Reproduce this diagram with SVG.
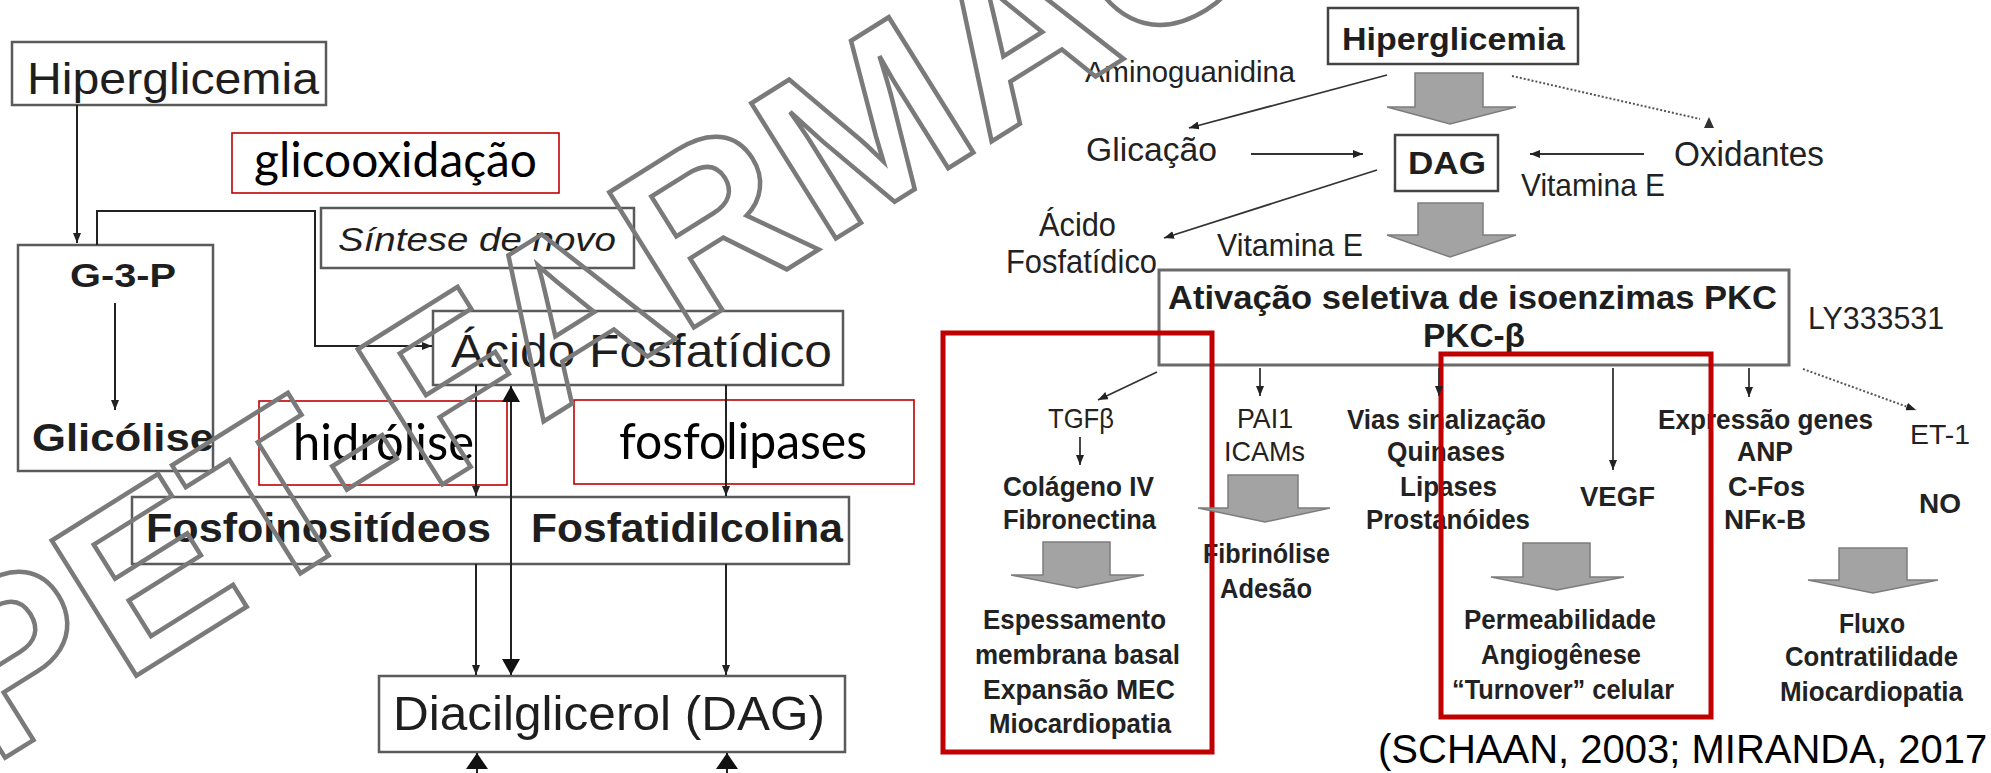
<svg xmlns="http://www.w3.org/2000/svg" width="1991" height="773" viewBox="0 0 1991 773">
<defs>
<style>
.bx{fill:none;stroke:#5a5a5a;stroke-width:2.5}
.bk{fill:none;stroke:#444;stroke-width:2.5}
.rb{fill:none;stroke:#c00000;stroke-width:1.6}
.rB{fill:none;stroke:#c00000;stroke-width:5}
.t{font-family:"Liberation Sans",Arial,sans-serif;fill:#1e1e1e}
.r{font-family:"Liberation Sans",Arial,sans-serif;fill:#222}
.b{font-weight:bold}
.i{font-style:italic}
.c{font-family:Lato,"Open Sans",sans-serif;fill:#000}
.ln{fill:none;stroke:#222;stroke-width:2}
.lr{fill:none;stroke:#333;stroke-width:1.8}
.dt{fill:none;stroke:#555;stroke-width:2;stroke-dasharray:2 2}
.blk{fill:#a3a3a3;stroke:#7d7d7d;stroke-width:1.5}
.wm{font-family:"Liberation Sans",Arial,sans-serif;font-weight:bold;font-size:232px;fill:none;stroke:#7a7a7a;stroke-width:4.5}
</style>
<marker id="a" viewBox="0 0 10 8" refX="10" refY="4" markerWidth="10" markerHeight="8" markerUnits="userSpaceOnUse" orient="auto"><path d="M0,0L10,4L0,8z" fill="#222"/></marker>
<marker id="A" viewBox="0 0 16 18" refX="16" refY="9" markerWidth="16" markerHeight="18" markerUnits="userSpaceOnUse" orient="auto-start-reverse"><path d="M0,0L16,9L0,18z" fill="#111"/></marker>
<marker id="U" viewBox="0 0 16 22" refX="16" refY="11" markerWidth="16" markerHeight="22" markerUnits="userSpaceOnUse" orient="auto"><path d="M0,0L16,11L0,22z" fill="#111"/></marker>
</defs>
<rect x="0" y="0" width="1991" height="773" fill="#fff"/>

<!-- LEFT DIAGRAM NODES -->
<g id="hiperglicemia-l">
<rect class="bx" x="12" y="42" width="314" height="63"/>
<text class="t" x="27" y="94" font-size="44" textLength="292" lengthAdjust="spacingAndGlyphs">Hiperglicemia</text>
</g>
<g id="glicooxidacao">
<rect class="rb" x="232" y="133" width="327" height="60"/>
<text class="c" x="254" y="177" font-size="48" textLength="283" lengthAdjust="spacingAndGlyphs">glicooxidação</text>
</g>
<g id="g3p">
<rect class="bx" x="18" y="245" width="195" height="226"/>
<text class="t b" x="123" y="287" font-size="33" text-anchor="middle" textLength="106" lengthAdjust="spacingAndGlyphs">G-3-P</text>
<text class="t b" x="32" y="451" font-size="38" textLength="182" lengthAdjust="spacingAndGlyphs">Glicólise</text>
</g>
<g id="sintese">
<rect class="bx" x="321" y="208" width="313" height="60"/>
<text class="t i" x="338" y="251" font-size="33" textLength="278" lengthAdjust="spacingAndGlyphs">Síntese de novo</text>
</g>
<g id="acido-l">
<rect class="bx" x="433" y="311" width="410" height="74"/>
<text class="t" x="451" y="367" font-size="46" textLength="381" lengthAdjust="spacingAndGlyphs">Ácido Fosfatídico</text>
</g>
<g id="hidrolise">
<rect class="rb" x="259" y="401" width="248" height="84"/>
<text class="c" x="293" y="460" font-size="50" textLength="181" lengthAdjust="spacingAndGlyphs">hidrólise</text>
</g>
<g id="fosfolipases">
<rect class="rb" x="574" y="400" width="340" height="84"/>
<text class="c" x="619" y="459" font-size="50" textLength="248" lengthAdjust="spacingAndGlyphs">fosfolipases</text>
</g>
<g id="fosfolipidios">
<rect class="bx" x="132" y="497" width="717" height="67"/>
<text class="t b" x="146" y="542" font-size="40" textLength="345" lengthAdjust="spacingAndGlyphs">Fosfoinositídeos</text>
<text class="t b" x="531" y="542" font-size="40" textLength="312" lengthAdjust="spacingAndGlyphs">Fosfatidilcolina</text>
</g>
<g id="diacilglicerol">
<rect class="bx" x="379" y="676" width="466" height="76"/>
<text class="t" x="393" y="730" font-size="48" textLength="432" lengthAdjust="spacingAndGlyphs">Diacilglicerol (DAG)</text>
</g>

<!-- RIGHT DIAGRAM NODES -->
<g id="hiperglicemia-r">
<rect class="bk" x="1328" y="8" width="250" height="56"/>
<text class="t b" x="1342" y="50" font-size="31" textLength="223" lengthAdjust="spacingAndGlyphs">Hiperglicemia</text>
</g>
<g id="aminoguanidina"><text class="r" x="1085" y="82" font-size="30" textLength="210" lengthAdjust="spacingAndGlyphs">Aminoguanidina</text></g>
<g id="glicacao"><text class="r" x="1086" y="161" font-size="34" textLength="131" lengthAdjust="spacingAndGlyphs">Glicação</text></g>
<g id="dag-r">
<rect class="bk" x="1395" y="135" width="103" height="56"/>
<text class="t b" x="1408" y="174" font-size="32" textLength="78" lengthAdjust="spacingAndGlyphs">DAG</text>
</g>
<g id="oxidantes"><text class="r" x="1674" y="166" font-size="35" textLength="150" lengthAdjust="spacingAndGlyphs">Oxidantes</text></g>
<g id="vitamina-e-1"><text class="r" x="1521" y="196" font-size="32" textLength="144" lengthAdjust="spacingAndGlyphs">Vitamina E</text></g>
<g id="acido-r">
<text class="r" x="1039" y="236" font-size="33" textLength="77" lengthAdjust="spacingAndGlyphs">Ácido</text>
<text class="r" x="1006" y="273" font-size="33" textLength="151" lengthAdjust="spacingAndGlyphs">Fosfatídico</text>
</g>
<g id="vitamina-e-2"><text class="r" x="1217" y="256" font-size="32" textLength="146" lengthAdjust="spacingAndGlyphs">Vitamina E</text></g>
<g id="ativacao">
<rect fill="none" stroke="#6a6a6a" stroke-width="3" x="1159" y="270" width="630" height="95"/>
<text class="t b" x="1168" y="309" font-size="34" textLength="609" lengthAdjust="spacingAndGlyphs">Ativação seletiva de  isoenzimas PKC</text>
<text class="t b" x="1474" y="347" font-size="34" text-anchor="middle" textLength="102" lengthAdjust="spacingAndGlyphs">PKC-β</text>
</g>
<g id="ly333531"><text class="r" x="1808" y="329" font-size="32" textLength="136" lengthAdjust="spacingAndGlyphs">LY333531</text></g>

<g id="tgfb">
<text class="r" x="1048" y="428" font-size="28" textLength="66" lengthAdjust="spacingAndGlyphs">TGFβ</text>
<text class="r b" x="1003" y="496" font-size="28" textLength="151" lengthAdjust="spacingAndGlyphs">Colágeno IV</text>
<text class="r b" x="1003" y="529" font-size="28" textLength="153" lengthAdjust="spacingAndGlyphs">Fibronectina</text>
</g>
<g id="espessamento">
<text class="r b" x="983" y="629" font-size="27" textLength="183" lengthAdjust="spacingAndGlyphs">Espessamento</text>
<text class="r b" x="975" y="664" font-size="27" textLength="205" lengthAdjust="spacingAndGlyphs">membrana basal</text>
<text class="r b" x="983" y="699" font-size="27" textLength="192" lengthAdjust="spacingAndGlyphs">Expansão MEC</text>
<text class="r b" x="989" y="733" font-size="27" textLength="182" lengthAdjust="spacingAndGlyphs">Miocardiopatia</text>
</g>
<g id="pai1">
<text class="r" x="1237" y="428" font-size="28" textLength="56" lengthAdjust="spacingAndGlyphs">PAI1</text>
<text class="r" x="1224" y="461" font-size="28" textLength="81" lengthAdjust="spacingAndGlyphs">ICAMs</text>
</g>
<g id="fibrinolise">
<text class="r b" x="1203" y="563" font-size="27" textLength="127" lengthAdjust="spacingAndGlyphs">Fibrinólise</text>
<text class="r b" x="1220" y="598" font-size="27" textLength="92" lengthAdjust="spacingAndGlyphs">Adesão</text>
</g>
<g id="vias">
<text class="r b" x="1347" y="429" font-size="27" textLength="199" lengthAdjust="spacingAndGlyphs">Vias sinalização</text>
<text class="r b" x="1387" y="461" font-size="27" textLength="118" lengthAdjust="spacingAndGlyphs">Quinases</text>
<text class="r b" x="1400" y="496" font-size="27" textLength="97" lengthAdjust="spacingAndGlyphs">Lipases</text>
<text class="r b" x="1366" y="529" font-size="27" textLength="164" lengthAdjust="spacingAndGlyphs">Prostanóides</text>
</g>
<g id="vegf"><text class="r b" x="1580" y="506" font-size="27" textLength="75" lengthAdjust="spacingAndGlyphs">VEGF</text></g>
<g id="permeabilidade">
<text class="r b" x="1464" y="629" font-size="27" textLength="192" lengthAdjust="spacingAndGlyphs">Permeabilidade</text>
<text class="r b" x="1481" y="664" font-size="27" textLength="160" lengthAdjust="spacingAndGlyphs">Angiogênese</text>
<text class="r b" x="1452" y="699" font-size="27" textLength="222" lengthAdjust="spacingAndGlyphs">“Turnover” celular</text>
</g>
<g id="expressao">
<text class="r b" x="1658" y="429" font-size="27" textLength="215" lengthAdjust="spacingAndGlyphs">Expressão genes</text>
<text class="r b" x="1737" y="461" font-size="27" textLength="56" lengthAdjust="spacingAndGlyphs">ANP</text>
<text class="r b" x="1728" y="496" font-size="27" textLength="77" lengthAdjust="spacingAndGlyphs">C-Fos</text>
<text class="r b" x="1724" y="529" font-size="27" textLength="82" lengthAdjust="spacingAndGlyphs">NFκ-B</text>
</g>
<g id="et1"><text class="r" x="1910" y="444" font-size="28" textLength="60" lengthAdjust="spacingAndGlyphs">ET-1</text></g>
<g id="no"><text class="r b" x="1919" y="513" font-size="27" textLength="42" lengthAdjust="spacingAndGlyphs">NO</text></g>
<g id="fluxo">
<text class="r b" x="1839" y="633" font-size="27" textLength="66" lengthAdjust="spacingAndGlyphs">Fluxo</text>
<text class="r b" x="1785" y="666" font-size="27" textLength="173" lengthAdjust="spacingAndGlyphs">Contratilidade</text>
<text class="r b" x="1780" y="701" font-size="27" textLength="183" lengthAdjust="spacingAndGlyphs">Miocardiopatia</text>
</g>
<g id="destaques">
<rect class="rB" x="943" y="333" width="269" height="419"/>
<rect class="rB" x="1441" y="354" width="270" height="363"/>
</g>
<g id="citacao"><text x="1378" y="763" font-family="Liberation Sans, Arial, sans-serif" font-size="40" fill="#000">(SCHAAN, 2003; MIRANDA, 2017</text></g>

<!-- CONNECTORS -->
<g id="connectors">
<line class="ln" x1="77" y1="105" x2="77" y2="243" marker-end="url(#a)"/>
<line class="ln" x1="115" y1="303" x2="115" y2="410" marker-end="url(#a)"/>
<polyline class="ln" points="97,245 97,211 315,211 315,346 432,346" marker-end="url(#a)"/>
<line class="ln" x1="476" y1="385" x2="476" y2="496" marker-end="url(#a)"/>
<line class="ln" x1="726" y1="385" x2="726" y2="496" marker-end="url(#a)"/>
<line class="ln" x1="476" y1="564" x2="476" y2="675" marker-end="url(#a)"/>
<line class="ln" x1="726" y1="564" x2="726" y2="675" marker-end="url(#a)"/>
<line class="ln" x1="511" y1="386" x2="511" y2="675" marker-start="url(#A)" marker-end="url(#A)"/>
<line class="ln" x1="477" y1="775" x2="477" y2="753" marker-end="url(#U)"/>
<line class="ln" x1="727" y1="775" x2="727" y2="753" marker-end="url(#U)"/>

<line class="lr" x1="1387" y1="75" x2="1189" y2="128" marker-end="url(#a)"/>
<line class="dt" x1="1512" y1="76" x2="1700" y2="119"/>
<path d="M1709,117 L1714,128 L1704,128 Z" fill="#333"/>
<line class="lr" x1="1251" y1="154" x2="1363" y2="154" marker-end="url(#a)"/>
<line class="lr" x1="1644" y1="154" x2="1530" y2="154" marker-end="url(#a)"/>
<line class="lr" x1="1377" y1="170" x2="1164" y2="238" marker-end="url(#a)"/>
<path class="blk" d="M1415,73 H1483 V107 H1516 L1450,124 L1387,107 H1415 Z"/>
<path class="blk" d="M1418,203 H1483 V235 H1516 L1450,257 L1387,235 H1418 Z"/>

<line class="lr" x1="1157" y1="372" x2="1098" y2="400" marker-end="url(#a)"/>
<line class="lr" x1="1260" y1="368" x2="1260" y2="396" marker-end="url(#a)"/>
<line class="lr" x1="1439" y1="368" x2="1439" y2="396" marker-end="url(#a)"/>
<line class="lr" x1="1613" y1="368" x2="1613" y2="470" marker-end="url(#a)"/>
<line class="lr" x1="1749" y1="368" x2="1749" y2="397" marker-end="url(#a)"/>
<line class="dt" x1="1803" y1="369" x2="1916" y2="410" marker-end="url(#a)"/>
<line class="lr" x1="1080" y1="437" x2="1080" y2="465" marker-end="url(#a)"/>
<path class="blk" d="M1043,542 H1110 V575 H1144 L1077,588 L1011,575 H1043 Z"/>
<path class="blk" d="M1228,475 H1298 V508 H1330 L1265,522 L1198,508 H1228 Z"/>
<path class="blk" d="M1523,543 H1590 V577 H1624 L1557,590 L1491,577 H1523 Z"/>
<path class="blk" d="M1839,548 H1907 V580 H1938 L1873,593 L1808,580 H1839 Z"/>
</g>

<!-- WATERMARK -->
<g id="watermark">
<text class="wm" transform="translate(-8,766) rotate(-32)" x="0" y="0">PET-FARMAC</text>
</g>
</svg>
